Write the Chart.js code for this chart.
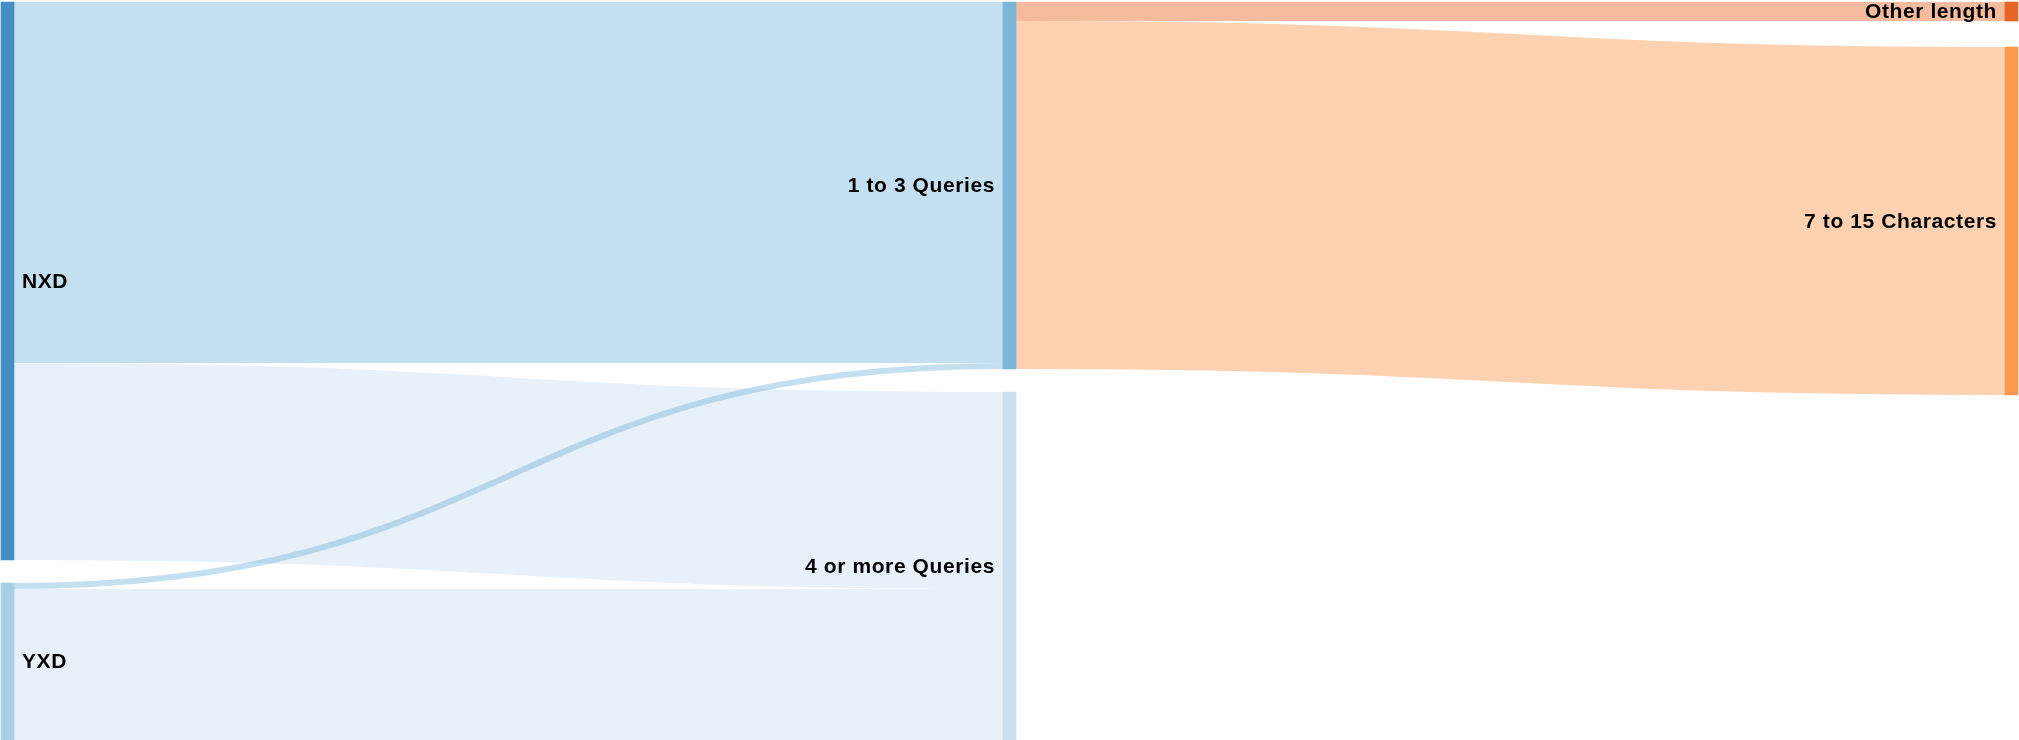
<!DOCTYPE html>
<html>
<head>
<meta charset="utf-8">
<script src="https://cdn.jsdelivr.net/npm/chart.js@4/dist/chart.umd.min.js"></script>
<style>
  html, body { margin: 0; padding: 0; background: #fff; }
  #wrap { width: 2019px; height: 740px; position: relative; }
</style>
</head>
<body>
<div id="wrap"><canvas id="sankey"></canvas></div>
<script>
// nodes, in column order
const nodeNames = ['NXD', 'YXD', '1 to 3 Queries', '4 or more Queries', 'Other length', '7 to 15 Characters'];
const nodeColumn = [0, 0, 1, 1, 2, 2];
const nodeColors = ['#3182bd', '#9ecae1', '#6baed6', '#c6dbef', '#e6550d', '#fd8d3c'];

// flows (index into nodeNames)
const linkSource = [0, 0, 1, 1, 2, 2];
const linkTarget = [2, 3, 2, 3, 4, 5];
const linkValue = [361, 197, 6, 151, 19, 348];

const NODE_WIDTH = 13;
const COLUMN_PAD = [23, 23, 26];
const LINK_ALPHA = 0.4;

const hexToRgba = (hex, a) => {
    const n = parseInt(hex.slice(1), 16);
    return `rgba(${(n >> 16) & 255}, ${(n >> 8) & 255}, ${n & 255}, ${a})`;
};

// simple layout: stack nodes top-down per column, value units on the y scale
const layout = () => {
    const inSum = nodeNames.map(() => 0);
    const outSum = nodeNames.map(() => 0);
    linkValue.forEach((v, i) => {
        outSum[linkSource[i]] += v;
        inSum[linkTarget[i]] += v;
    });
    const colY = [0, 0, 0];
    const nodes = nodeNames.map((name, i) => {
        const c = nodeColumn[i];
        const y0 = colY[c];
        const y1 = y0 + Math.max(inSum[i], outSum[i]);
        colY[c] = y1 + COLUMN_PAD[c];
        return { name, col: c, y0, y1 };
    });
    const srcOff = nodes.map(n => n.y0);
    const tgtOff = nodes.map(n => n.y0);
    const links = linkValue.map((v, i) => {
        const s = linkSource[i], t = linkTarget[i];
        const l = { s, t, v, sy: srcOff[s] + v / 2, ty: tgtOff[t] + v / 2 };
        srcOff[s] += v;
        tgtOff[t] += v;
        return l;
    });
    return { nodes, links };
};

const graph = layout();

const linkPlugin = {
    id: 'sankeyLinks',
    beforeDatasetsDraw: (chart) => {
        const { ctx, scales: { x, y } } = chart;
        ctx.save();
        graph.links.forEach(l => {
            const x0 = x.getPixelForValue(nodeColumn[l.s]) + NODE_WIDTH / 2;
            const x1 = x.getPixelForValue(nodeColumn[l.t]) - NODE_WIDTH / 2;
            const y0 = y.getPixelForValue(l.sy);
            const y1 = y.getPixelForValue(l.ty);
            const xm = (x0 + x1) / 2;
            ctx.beginPath();
            ctx.moveTo(x0, y0);
            ctx.bezierCurveTo(xm, y0, xm, y1, x1, y1);
            ctx.lineWidth = Math.abs(y.getPixelForValue(l.v) - y.getPixelForValue(0));
            ctx.strokeStyle = hexToRgba(nodeColors[l.t], LINK_ALPHA);
            ctx.lineCap = 'butt';
            ctx.stroke();
        });
        ctx.restore();
    },
    afterDatasetsDraw: (chart) => {
        const { ctx, scales: { x, y } } = chart;
        ctx.save();
        ctx.font = 'bold 21px "Liberation Sans", Helvetica, Arial, sans-serif';
        if ('letterSpacing' in ctx) ctx.letterSpacing = '0.6px';
        ctx.fillStyle = '#000';
        ctx.textBaseline = 'middle';
        graph.nodes.forEach(n => {
            const cx = x.getPixelForValue(n.col);
            const cy = y.getPixelForValue((n.y0 + n.y1) / 2) + 1;
            if (n.col === 0) {
                ctx.textAlign = 'left';
                ctx.fillText(n.name, cx + NODE_WIDTH / 2 + 8, cy);
            } else {
                ctx.textAlign = 'right';
                ctx.fillText(n.name, cx - NODE_WIDTH / 2 - 8, cy);
            }
        });
        ctx.restore();
    }
};

// column 0 centre at 7.5px, column 2 centre at 2011.5px
const colSpan = 1002;
const xPad = 7.5 / colSpan;

new Chart(document.getElementById('sankey'), {
    type: 'bar',
    data: {
        datasets: [{
            data: graph.nodes.map(n => ({ x: n.col, y: [n.y0, n.y1] })),
            backgroundColor: nodeColors.map(c => hexToRgba(c, 0.9)),
            borderWidth: 0,
            barThickness: NODE_WIDTH
        }]
    },
    options: {
        responsive: true,
        maintainAspectRatio: false,
        animation: false,
        layout: { padding: 0 },
        plugins: { legend: { display: false }, tooltip: { enabled: false } },
        scales: {
            x: { type: 'linear', min: -xPad, max: 2 + xPad, offset: false, display: false },
            y: { type: 'linear', min: -2, max: 738, reverse: true, display: false }
        }
    },
    plugins: [linkPlugin]
});
</script>
</body>
</html>
